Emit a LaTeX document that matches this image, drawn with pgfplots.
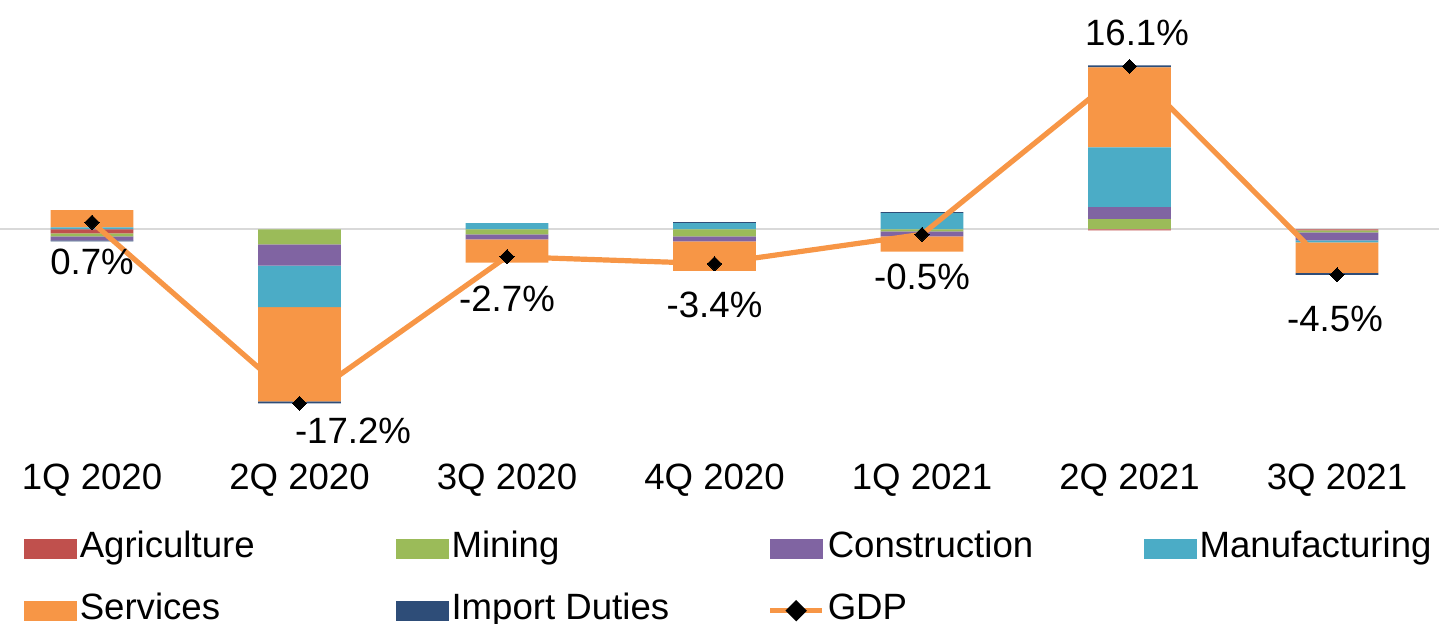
\documentclass[border=0pt]{standalone}
\usepackage{pgfplots}
\pgfplotsset{compat=1.18}
\usepackage{pgfplotstable}
\usepackage{fontspec}
\setmainfont{Liberation Sans}
\definecolor{cagr}{HTML}{C0504D}
\definecolor{cmin}{HTML}{9BBB59}
\definecolor{ccon}{HTML}{8064A2}
\definecolor{cman}{HTML}{4BACC6}
\definecolor{cser}{HTML}{F79646}
\definecolor{cimp}{HTML}{2E4D78}
\definecolor{czero}{HTML}{D9D9D9}
\newcommand{\cfont}{\fontsize{18.3bp}{22bp}\selectfont}
\newcommand{\lgt}[1]{\makebox[156.5bp][l]{#1}}

% positive contributions (stacked upward)
\pgfplotstableread{
x agr min con man ser imp
0 0 0 0 0.2 1.7 0
1 0 0 0 0 0 0
2 0 0 0 0.6 0 0
3 0 0 0 0.6 0 0.1
4 0 0 0 1.6 0 0.1
5 0 1.0 1.2 5.9 7.9 0.2
6 0 0 0 0 0 0
}\postab
% negative contributions (stacked downward)
\pgfplotstableread{
x agr min con man ser imp
0 -0.4 -0.3 -0.4 0 0 -0.1
1 0 -1.5 -2.1 -4.1 -9.3 -0.2
2 0 -0.5 -0.5 0 -2.3 0
3 0 -0.7 -0.5 0 -2.9 0
4 0 -0.2 -0.5 0 -1.5 0
5 -0.1 0 0 0 0 0
6 -0.1 -0.2 -0.8 -0.2 -3.0 -0.2
}\negtab
\pgfplotstableread{
x gdp
0 0.7
1 -17.2
2 -2.7
3 -3.4
4 -0.5
5 16.1
6 -4.5
}\gdptab

\pgfplotsset{
  base/.style={scale only axis, width=726.25bp, height=225.95bp,
    xmin=-0.5, xmax=6.5, ymin=-22, ymax=22.66,
    at={(-5.875bp,0)}, anchor=north west},
  lbl/.style 2 args={draw=none, mark=none, forget plot,
    point meta=explicit symbolic, nodes near coords={\pgfplotspointmeta},
    every node near coord/.append style={font=\cfont, text=black, anchor=center,
      xshift=#1, yshift=#2}},
}
\begin{document}
\begin{tikzpicture}[font=\cfont]
\path[use as bounding box] (0,-312bp) rectangle (719.5bp,0);
% positive stack + axis labels
\begin{axis}[base, ybar stacked, bar width=41.3bp,
  axis line style={draw=none}, major tick length=0pt,
  ytick=\empty, xtick={0,...,6},
  xticklabels={1Q 2020,2Q 2020,3Q 2020,4Q 2020,1Q 2021,2Q 2021,3Q 2021},
  xticklabel style={font=\cfont, anchor=base, yshift=-18.55bp},
  extra y ticks={0}, extra y tick labels={},
  extra y tick style={grid=major, major grid style={draw=czero, line width=1bp}}]
\addplot[fill=cagr, draw=none] table[x=x,y=agr]{\postab};
\addplot[fill=cmin, draw=none] table[x=x,y=min]{\postab};
\addplot[fill=ccon, draw=none] table[x=x,y=con]{\postab};
\addplot[fill=cman, draw=none] table[x=x,y=man]{\postab};
\addplot[fill=cser, draw=none] table[x=x,y=ser]{\postab};
\addplot[fill=cimp, draw=none] table[x=x,y=imp]{\postab};
\end{axis}
% negative stack
\begin{axis}[base, hide axis, ybar stacked, bar width=41.3bp]
\addplot[fill=cagr, draw=none] table[x=x,y=agr]{\negtab};
\addplot[fill=cmin, draw=none] table[x=x,y=min]{\negtab};
\addplot[fill=ccon, draw=none] table[x=x,y=con]{\negtab};
\addplot[fill=cman, draw=none] table[x=x,y=man]{\negtab};
\addplot[fill=cser, draw=none] table[x=x,y=ser]{\negtab};
\addplot[fill=cimp, draw=none] table[x=x,y=imp]{\negtab};
\end{axis}
% GDP line + labels + legend
\begin{axis}[base, hide axis,
  legend columns=4,
  legend style={at={(0.0246,-0.1765)}, anchor=north west, draw=none, fill=none,
    inner sep=0pt, outer sep=0pt, column sep=0pt, row sep=14bp, font=\cfont,
    nodes={inner xsep=1.5bp, inner ysep=0pt, text height=13bp, text depth=4bp}}]
\addlegendimage{legend image code/.code={\fill[cagr] (0bp,-4.75bp) rectangle (26bp,4.75bp);}}
\addlegendentry{\lgt{Agriculture}}
\addlegendimage{legend image code/.code={\fill[cmin] (0bp,-4.75bp) rectangle (26bp,4.75bp);}}
\addlegendentry{\lgt{Mining}}
\addlegendimage{legend image code/.code={\fill[ccon] (0bp,-4.75bp) rectangle (26bp,4.75bp);}}
\addlegendentry{\lgt{Construction}}
\addlegendimage{legend image code/.code={\fill[cman] (0bp,-4.75bp) rectangle (26bp,4.75bp);}}
\addlegendentry{\lgt{Manufacturing}}
\addlegendimage{legend image code/.code={\fill[cser] (0bp,-4.75bp) rectangle (26bp,4.75bp);}}
\addlegendentry{\lgt{Services}}
\addlegendimage{legend image code/.code={\fill[cimp] (0bp,-4.75bp) rectangle (26bp,4.75bp);}}
\addlegendentry{\lgt{Import Duties}}
\addplot[color=cser, line width=2.6bp, mark=square*,
  mark options={rotate=45, fill=black, draw=black, line width=0pt, mark size=2.5bp},
  legend image code/.code={
    \draw[cser, line width=2.6bp] (0bp,0bp) -- (26bp,0bp);
    \fill[black] (13bp,3.5bp) -- (16.5bp,0bp) -- (13bp,-3.5bp) -- (9.5bp,0bp) -- cycle;}]
  table[x=x, y=gdp]{\gdptab};
\addlegendentry{\lgt{GDP}}
% data labels
\addplot[lbl={0bp}{-20bp}] coordinates {(0,0.7) [0.7\%]};
\addplot[lbl={26.75bp}{-13.5bp}] coordinates {(1,-17.2) [-17.2\%]};
\addplot[lbl={0bp}{-21bp}] coordinates {(2,-2.7) [-2.7\%]};
\addplot[lbl={0bp}{-20.5bp}] coordinates {(3,-3.4) [-3.4\%]};
\addplot[lbl={0bp}{-21.5bp}] coordinates {(4,-0.5) [-0.5\%]};
\addplot[lbl={3.75bp}{16.5bp}] coordinates {(5,16.1) [16.1\%]};
\addplot[lbl={-1bp}{-22bp}] coordinates {(6,-4.5) [-4.5\%]};
\end{axis}
\end{tikzpicture}
\end{document}
